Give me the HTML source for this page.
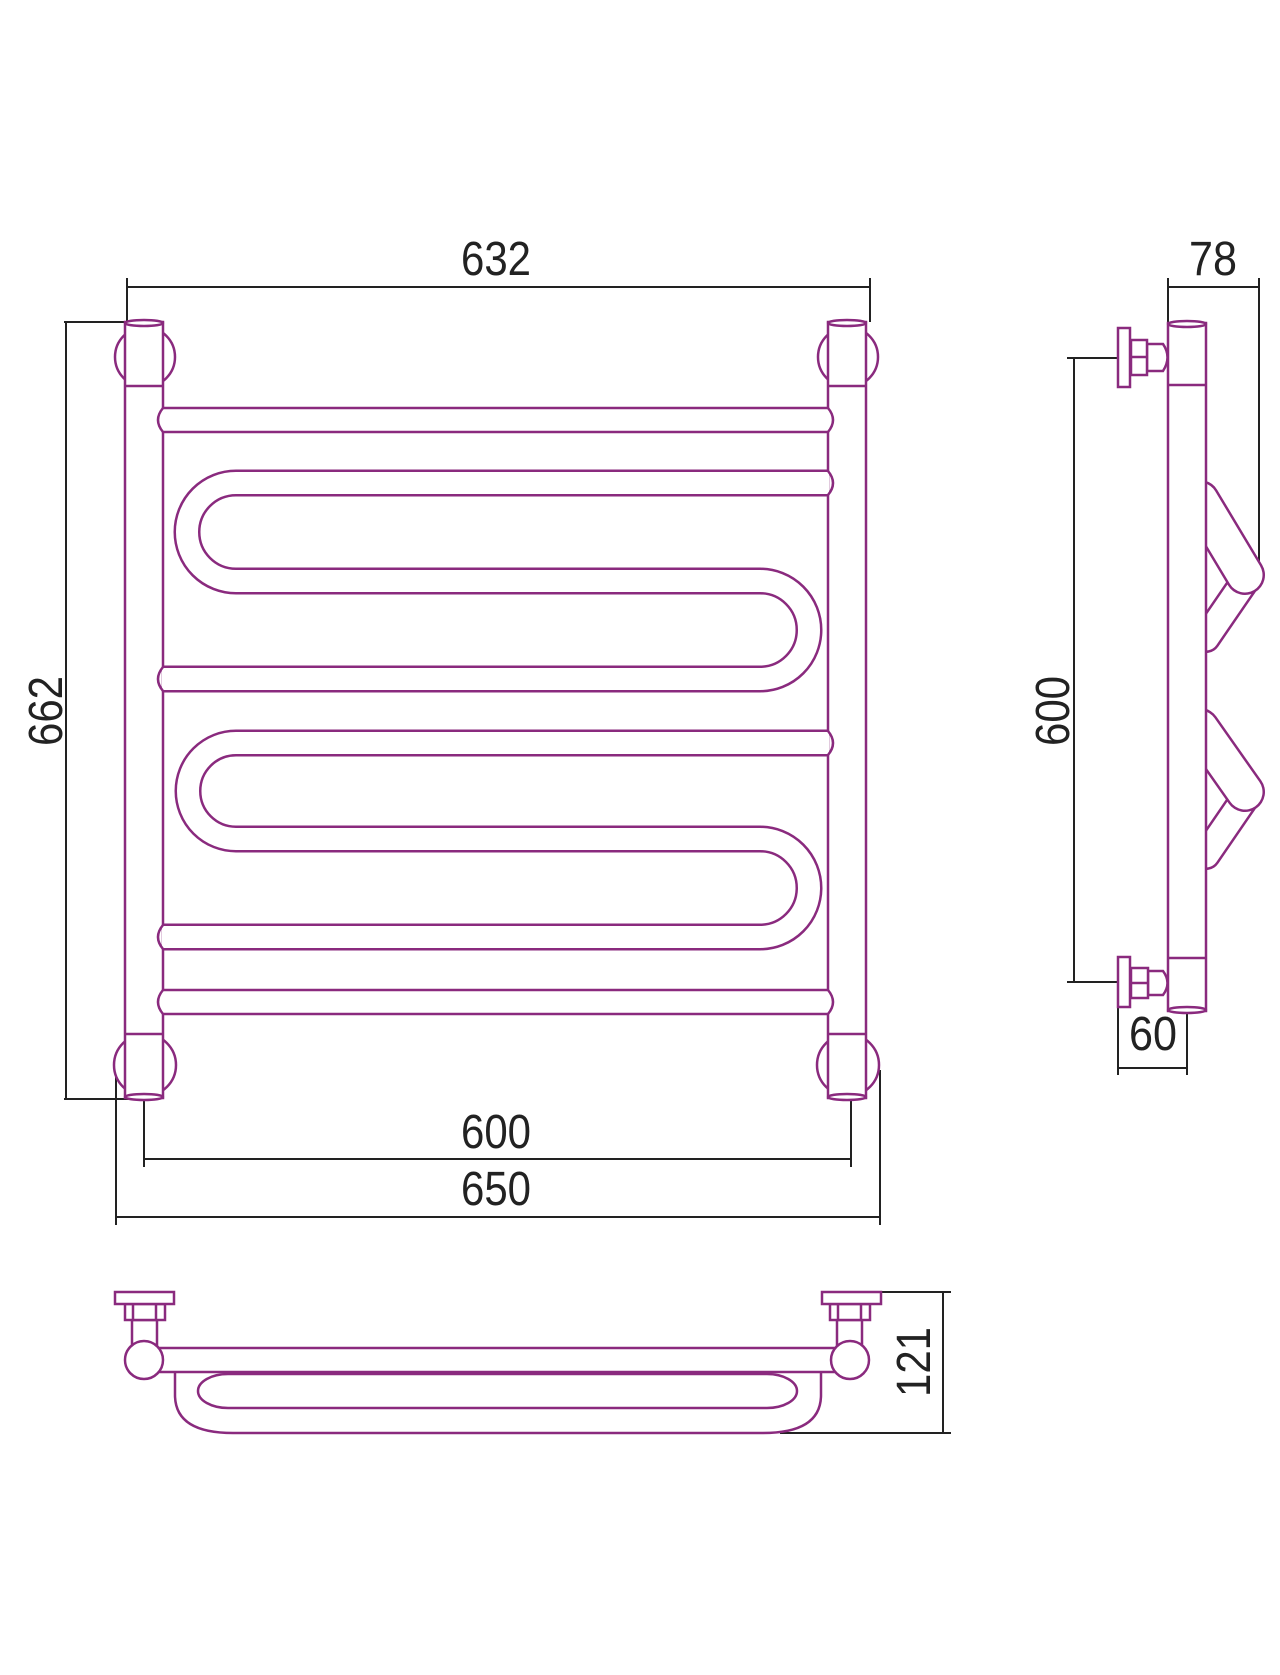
<!DOCTYPE html>
<html><head><meta charset="utf-8"><style>
html,body{margin:0;padding:0;background:#fff;}
svg{display:block;}
text{font-family:"Liberation Sans",sans-serif;fill:#222;}
</style></head><body>
<svg width="1280" height="1675" viewBox="0 0 1280 1675" xmlns="http://www.w3.org/2000/svg">
<g fill="none" stroke="#222" stroke-width="2">
<!-- 632 -->
<line x1="127" y1="287" x2="870" y2="287"/>
<line x1="127" y1="278" x2="127" y2="322"/>
<line x1="870" y1="278" x2="870" y2="322"/>
<!-- 662 -->
<line x1="64" y1="322" x2="125" y2="322"/>
<line x1="64" y1="1099" x2="140" y2="1099"/>
<line x1="66" y1="322" x2="66" y2="1099"/>
<!-- 600 -->
<line x1="144" y1="1100" x2="144" y2="1167"/>
<line x1="851" y1="1100" x2="851" y2="1167"/>
<line x1="144" y1="1159" x2="851" y2="1159"/>
<!-- 650 -->
<line x1="116" y1="1070" x2="116" y2="1225"/>
<line x1="880" y1="1070" x2="880" y2="1225"/>
<line x1="116" y1="1217" x2="880" y2="1217"/>
<!-- 78 -->
<line x1="1168" y1="278" x2="1168" y2="323"/>
<line x1="1259" y1="278" x2="1259" y2="580"/>
<line x1="1168" y1="287" x2="1259" y2="287"/>
<!-- side 600 -->
<line x1="1067" y1="358" x2="1118" y2="358"/>
<line x1="1067" y1="982" x2="1118" y2="982"/>
<line x1="1074" y1="358" x2="1074" y2="982"/>
<!-- 60 -->
<line x1="1118" y1="1007" x2="1118" y2="1075"/>
<line x1="1187" y1="1011" x2="1187" y2="1075"/>
<line x1="1118" y1="1068" x2="1187" y2="1068"/>
<!-- 121 -->
<line x1="880" y1="1292" x2="951" y2="1292"/>
<line x1="780" y1="1433" x2="951" y2="1433"/>
<line x1="943" y1="1292" x2="943" y2="1433"/>
</g>
<g font-size="48">
<text x="496" y="275" text-anchor="middle" textLength="70" lengthAdjust="spacingAndGlyphs">632</text>
<text x="496" y="1148" text-anchor="middle" textLength="70" lengthAdjust="spacingAndGlyphs">600</text>
<text x="496" y="1205" text-anchor="middle" textLength="70" lengthAdjust="spacingAndGlyphs">650</text>
<text x="1213" y="275" text-anchor="middle" textLength="48" lengthAdjust="spacingAndGlyphs">78</text>
<text x="1153" y="1050" text-anchor="middle" textLength="48" lengthAdjust="spacingAndGlyphs">60</text>
<text transform="translate(62,711) rotate(-90)" text-anchor="middle" textLength="70" lengthAdjust="spacingAndGlyphs">662</text>
<text transform="translate(1069,711) rotate(-90)" text-anchor="middle" textLength="70" lengthAdjust="spacingAndGlyphs">600</text>
<text transform="translate(930,1362) rotate(-90)" text-anchor="middle" textLength="70" lengthAdjust="spacingAndGlyphs">121</text>
</g>

<g stroke="#8a2a7e" stroke-width="2.5" fill="#fff">
<!-- wall mounts -->
<circle cx="145" cy="357" r="30"/>
<circle cx="848" cy="357" r="30"/>
<circle cx="145" cy="1065" r="31"/>
<circle cx="848" cy="1065" r="31"/>
<!-- posts -->
<rect x="125" y="322" width="38" height="776"/>
<rect x="828" y="322" width="38" height="776"/>
<line x1="125" y1="386" x2="163" y2="386"/>
<line x1="828" y1="386" x2="866" y2="386"/>
<line x1="125" y1="1034" x2="163" y2="1034"/>
<line x1="828" y1="1034" x2="866" y2="1034"/>
<ellipse cx="144" cy="323" rx="19" ry="3"/>
<ellipse cx="847" cy="323" rx="19" ry="3"/>
<ellipse cx="144" cy="1097" rx="19" ry="3"/>
<ellipse cx="847" cy="1097" rx="19" ry="3"/>
<!-- straight rails -->
<path d="M163,408 L828,408 Q838,420 828,432 L163,432 Q153,420 163,408 Z"/>
<path d="M163,990 L828,990 Q838,1002 828,1014 L163,1014 Q153,1002 163,990 Z"/>
</g>
<!-- serpentines -->
<g fill="none" stroke-linecap="butt">
<path id="s1" d="M829,483 L236,483 A49,49 0 0 0 236,581 L760,581 A49,49 0 0 1 760,679 L162,679" stroke="#8a2a7e" stroke-width="27"/>
<path d="M829,483 L236,483 A49,49 0 0 0 236,581 L760,581 A49,49 0 0 1 760,679 L162,679" stroke="#fff" stroke-width="22"/>
<path d="M829,743 L236,743 A48,48 0 0 0 236,839 L760,839 A49,49 0 0 1 760,937 L162,937" stroke="#8a2a7e" stroke-width="27"/>
<path d="M829,743 L236,743 A48,48 0 0 0 236,839 L760,839 A49,49 0 0 1 760,937 L162,937" stroke="#fff" stroke-width="22"/>
</g>
<g stroke="#8a2a7e" stroke-width="2.5" fill="none">
<path d="M828,471 Q838,483 828,495"/>
<path d="M163,667 Q153,679 163,691"/>
<path d="M828,731 Q838,743 828,755"/>
<path d="M163,925 Q153,937 163,949"/>
</g>

<!-- side view -->
<g stroke="#8a2a7e" stroke-width="2.5" fill="#fff">
<path d="M1206,507 L1246,578" stroke-width="0" />
</g>
<g fill="none" stroke-linecap="round">
<path d="M1206,638 L1243,584" stroke="#8a2a7e" stroke-width="30"/>
<path d="M1206,638 L1243,584" stroke="#fff" stroke-width="25"/>
<path d="M1200,500 L1245,575" stroke="#8a2a7e" stroke-width="40"/>
<path d="M1200,500 L1245,575" stroke="#fff" stroke-width="35"/>
<path d="M1206,855 L1243,801" stroke="#8a2a7e" stroke-width="30"/>
<path d="M1206,855 L1243,801" stroke="#fff" stroke-width="25"/>
<path d="M1200,728 L1245,792" stroke="#8a2a7e" stroke-width="40"/>
<path d="M1200,728 L1245,792" stroke="#fff" stroke-width="35"/>
</g>
<g stroke="#8a2a7e" stroke-width="2.5" fill="#fff">
<rect x="1168" y="323" width="38" height="688"/>
<line x1="1168" y1="385" x2="1206" y2="385"/>
<line x1="1168" y1="958" x2="1206" y2="958"/>
<ellipse cx="1187" cy="324" rx="19" ry="3"/>
<ellipse cx="1187" cy="1010" rx="19" ry="3"/>
<!-- top valve -->
<path d="M1147,344 L1163,344 Q1172,357 1163,371 L1147,371 Z"/>
<rect x="1131" y="340" width="16" height="35"/>
<line x1="1131" y1="357" x2="1147" y2="357"/>
<rect x="1118" y="328" width="12" height="59"/>
<!-- bottom valve -->
<path d="M1148,971 L1163,971 Q1172,983 1163,995 L1148,995 Z"/>
<rect x="1131" y="968" width="17" height="30"/>
<line x1="1131" y1="983" x2="1148" y2="983"/>
<rect x="1118" y="957" width="12" height="50"/>
</g>

<!-- bottom view -->
<g stroke="#8a2a7e" stroke-width="2.5" fill="#fff">
<path d="M175,1372 L175,1395 Q175,1433 233,1433 L763,1433 Q821,1433 821,1395 L821,1372"/>
<path d="M228,1374 L767,1374 A30,17 0 0 1 767,1408 L228,1408 A30,17 0 0 1 228,1374 Z"/>
<rect x="132" y="1320" width="25" height="30"/>
<rect x="837" y="1320" width="25" height="30"/>
<rect x="125" y="1304" width="40" height="16"/>
<line x1="133" y1="1304" x2="133" y2="1320"/><line x1="156" y1="1304" x2="156" y2="1320"/>
<rect x="830" y="1304" width="40" height="16"/>
<line x1="838" y1="1304" x2="838" y2="1320"/><line x1="861" y1="1304" x2="861" y2="1320"/>
<rect x="115" y="1292" width="59" height="12"/>
<rect x="822" y="1292" width="59" height="12"/>
<rect x="150" y="1348" width="695" height="24"/>
<circle cx="144" cy="1360" r="19"/>
<circle cx="850" cy="1360" r="19"/>
</g>
</svg>
</body></html>
